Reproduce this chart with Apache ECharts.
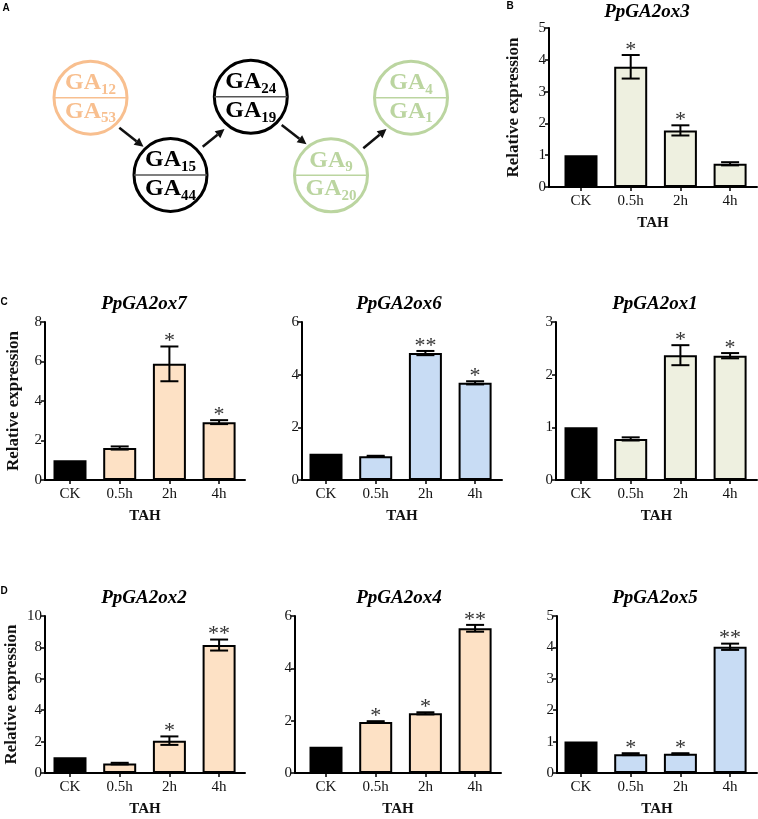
<!DOCTYPE html>
<html><head><meta charset="utf-8">
<script src="https://cdn.jsdelivr.net/npm/echarts@6/dist/echarts.min.js"></script>
<style>html,body{margin:0;padding:0;background:#fff}#c{width:758px;height:819px}</style>
</head><body><div id="c"></div>
<script>
// ---------------- data ----------------
const categories = ['CK', '0.5h', '2h', '4h'];
const axisTitle = 'TAH';
const yTitle = 'Relative expression';
const genes = ['PpGA2ox3', 'PpGA2ox7', 'PpGA2ox6', 'PpGA2ox1', 'PpGA2ox2', 'PpGA2ox4', 'PpGA2ox5'];

const valuesB  = [1.0, 3.78, 1.78, 0.73];
const errorsB  = [0, 0.37, 0.16, 0.05];
const starsB   = ['', '*', '*', ''];

const valuesC1 = [1.0, 1.62, 5.88, 2.93];
const errorsC1 = [0, 0.08, 0.88, 0.10];
const starsC1  = ['', '', '*', '*'];

const valuesC2 = [1.0, 0.90, 4.82, 3.69];
const errorsC2 = [0, 0.02, 0.08, 0.06];
const starsC2  = ['', '', '**', '*'];

const valuesC3 = [1.0, 0.78, 2.37, 2.36];
const errorsC3 = [0, 0.03, 0.19, 0.05];
const starsC3  = ['', '', '*', '*'];

const valuesD1 = [1.0, 0.60, 2.06, 8.15];
const errorsD1 = [0, 0.05, 0.27, 0.35];
const starsD1  = ['', '', '*', '**'];

const valuesD2 = [1.0, 1.95, 2.28, 5.53];
const errorsD2 = [0, 0.03, 0.04, 0.13];
const starsD2  = ['', '*', '*', '**'];

const valuesD3 = [1.0, 0.60, 0.61, 4.02];
const errorsD3 = [0, 0.03, 0.02, 0.10];
const starsD3  = ['', '*', '*', '**'];

const yMaxes = [5, 8, 6, 3, 10, 6, 5];
const ySteps = [1, 2, 2, 1, 2, 2, 1];

// pathway diagram (panel A)
const gaTop    = ['12', '15', '24', '9', '4'];
const gaBottom = ['53', '44', '19', '20', '1'];

// ---------------- styles / layout ----------------
const SERIF = '"Liberation Serif","Times New Roman",serif';
const ORANGE = '#FDE1C5', BLUE = '#C8DCF4', GREEN = '#EEF0E0';
const C_OR = '#F8BF8F', C_GR = '#BBD5A0', C_BK = '#000';

const values = [valuesB, valuesC1, valuesC2, valuesC3, valuesD1, valuesD2, valuesD3];
const errors = [errorsB, errorsC1, errorsC2, errorsC3, errorsD1, errorsD2, errorsD3];
const stars  = [starsB, starsC1, starsC2, starsC3, starsD1, starsD2, starsD3];

const BAND = 49.7;
const panels = [
  {left: 549, top: 28,  width: 208, height: 159, gap: 32, fill: GREEN,  yName: 27, tx: 647, ty: 12},
  {left: 45,  top: 322, width: 200, height: 158, gap: 25, fill: ORANGE, yName: 23, tx: 144, ty: 304},
  {left: 302, top: 322, width: 200, height: 158, gap: 24, fill: BLUE,   yName: 0,  tx: 399, ty: 304},
  {left: 556, top: 322, width: 201, height: 158, gap: 25, fill: GREEN,  yName: 0,  tx: 655, ty: 304},
  {left: 45,  top: 616, width: 200, height: 157, gap: 25, fill: ORANGE, yName: 25, tx: 144, ty: 598},
  {left: 295, top: 616, width: 206, height: 157, gap: 31, fill: ORANGE, yName: 0,  tx: 399, ty: 598},
  {left: 557, top: 616, width: 200, height: 157, gap: 24, fill: BLUE,   yName: 0,  tx: 655, ty: 598}
];

const grids = [], xAxes = [], yAxes = [], series = [];
panels.forEach((p, k) => {
  grids.push({left: p.left, top: p.top, width: p.width, height: p.height, containLabel: false, outerBoundsMode: 'none'});
  const xmin = -p.gap / BAND;
  const idx = categories.map((c, i) => i);
  xAxes.push({
    type: 'value', gridIndex: k, min: xmin, max: xmin + p.width / BAND,
    axisLine: {onZero: false, lineStyle: {color: '#000', width: 2}},
    axisTick: {show: true, customValues: idx, length: 4, lineStyle: {color: '#000', width: 1.5}},
    axisLabel: {customValues: idx, formatter: v => categories[Math.round(v)], margin: 7,
      fontFamily: SERIF, fontSize: 15, color: '#111'},
    splitLine: {show: false},
    name: axisTitle, nameLocation: 'middle', nameGap: 29,
    nameTextStyle: {fontFamily: SERIF, fontSize: 15, fontWeight: 'bold', color: '#111'}
  });
  yAxes.push({
    type: 'value', gridIndex: k, min: 0, max: yMaxes[k], interval: ySteps[k],
    axisLine: {show: true, onZero: false, lineStyle: {color: '#000', width: 2}},
    axisTick: {show: true, length: 4, lineStyle: {color: '#000', width: 1.5}},
    axisLabel: {margin: 3, fontFamily: SERIF, fontSize: 15, color: '#111'},
    splitLine: {show: false},
    name: p.yName ? yTitle : '', nameLocation: 'middle', nameRotate: 90, nameGap: p.yName || 20,
    nameTextStyle: {fontFamily: SERIF, fontSize: 17, fontWeight: 'bold', color: '#111'}
  });
  series.push({
    type: 'bar', xAxisIndex: k, yAxisIndex: k, barWidth: 33, z: 2,
    data: values[k].map((v, i) => ({value: [i, v], itemStyle: {color: i === 0 ? '#000' : p.fill}})),
    itemStyle: {borderColor: '#000', borderWidth: 2}
  });
  series.push({
    type: 'custom', xAxisIndex: k, yAxisIndex: k, z: 3,
    data: values[k].map((v, i) => [i, v, errors[k][i]]),
    renderItem: (params, api) => {
      const x = api.value(0), m = api.value(1), e = api.value(2);
      const top = api.coord([x, m + e]), bot = api.coord([x, m - e]);
      const cw = 9;
      const ls = {stroke: '#000', lineWidth: 2};
      const ch = [];
      if (e > 0) {
        ch.push({type: 'line', shape: {x1: top[0], y1: top[1], x2: bot[0], y2: bot[1]}, style: ls});
        ch.push({type: 'line', shape: {x1: top[0] - cw, y1: top[1], x2: top[0] + cw, y2: top[1]}, style: ls});
        ch.push({type: 'line', shape: {x1: bot[0] - cw, y1: bot[1], x2: bot[0] + cw, y2: bot[1]}, style: ls});
      }
      const s = stars[k][params.dataIndex];
      if (s) {
        ch.push({type: 'text', style: {text: s, x: top[0], y: top[1] - 5, align: 'center', verticalAlign: 'middle',
          textAlign: 'center', textVerticalAlign: 'middle', font: '22px ' + SERIF, fill: '#333'}});
      }
      return {type: 'group', children: ch};
    }
  });
});

// ---------------- graphic: titles, letters, diagram ----------------
const graphic = [];
panels.forEach((p, k) => {
  graphic.push({type: 'text', x: p.tx, y: p.ty, style: {text: genes[k], font: 'italic bold 19px ' + SERIF,
    fill: '#000', align: 'center', verticalAlign: 'middle'}});
});
[['A', 6, 8], ['B', 510, 6], ['C', 4, 302], ['D', 4, 591]].forEach(l => {
  graphic.push({type: 'text', x: l[1], y: l[2], style: {text: l[0], font: 'bold 10px "Liberation Sans",Arial,sans-serif',
    fill: '#000', align: 'center', verticalAlign: 'middle'}});
});

const circles = [
  {cx: 90.5, cy: 97.7, col: C_OR, div: C_OR},
  {cx: 170.5, cy: 175, col: C_BK, div: '#555'},
  {cx: 250.8, cy: 96.8, col: C_BK, div: '#555'},
  {cx: 331, cy: 175.3, col: C_GR, div: C_GR},
  {cx: 411, cy: 97.7, col: C_GR, div: C_GR}
];
const R = 36.5;
function gaLabel(cx, y, sub, col, out) {
  const gaW = 36, subW = sub.length * 7.5;
  const start = cx - (gaW + subW) / 2;
  out.push({type: 'text', x: start, y: y, style: {text: 'GA', font: 'bold 24px ' + SERIF, fill: col, align: 'left', verticalAlign: 'middle'}});
  out.push({type: 'text', x: start + gaW, y: y + 7.3, style: {text: sub, font: 'bold 15px ' + SERIF, fill: col, align: 'left', verticalAlign: 'middle'}});
}
circles.forEach((c, i) => {
  graphic.push({type: 'circle', shape: {cx: c.cx, cy: c.cy, r: R}, style: {fill: '#fff', stroke: c.col, lineWidth: 3}});
  graphic.push({type: 'line', shape: {x1: c.cx - R, y1: c.cy, x2: c.cx + R, y2: c.cy}, style: {stroke: c.div, lineWidth: 1.5}});
  gaLabel(c.cx, c.cy - 15, gaTop[i], c.col, graphic);
  gaLabel(c.cx, c.cy + 13.6, gaBottom[i], c.col, graphic);
});
const arrows = [[119.3, 127.7, 143.5, 146.8], [202.7, 146.7, 224.5, 129], [281.7, 125, 306.5, 144.3], [363.3, 148.3, 386.5, 129]];
arrows.forEach(a => {
  const dx = a[2] - a[0], dy = a[3] - a[1], L = Math.hypot(dx, dy), ux = dx / L, uy = dy / L;
  const hl = 9, hw = 4.5;
  const bx = a[2] - ux * hl, by = a[3] - uy * hl;
  graphic.push({type: 'line', shape: {x1: a[0], y1: a[1], x2: bx, y2: by}, style: {stroke: '#111', lineWidth: 2.5}});
  graphic.push({type: 'polygon', shape: {points: [[a[2], a[3]], [bx - uy * hw, by + ux * hw], [bx + uy * hw, by - ux * hw]]},
    style: {fill: '#111'}});
});

const chart = echarts.init(document.getElementById('c'), null, {renderer: 'canvas'});
chart.setOption({
  animation: false,
  backgroundColor: '#fff',
  grid: grids, xAxis: xAxes, yAxis: yAxes, series: series, graphic: graphic
});
</script></body></html>
